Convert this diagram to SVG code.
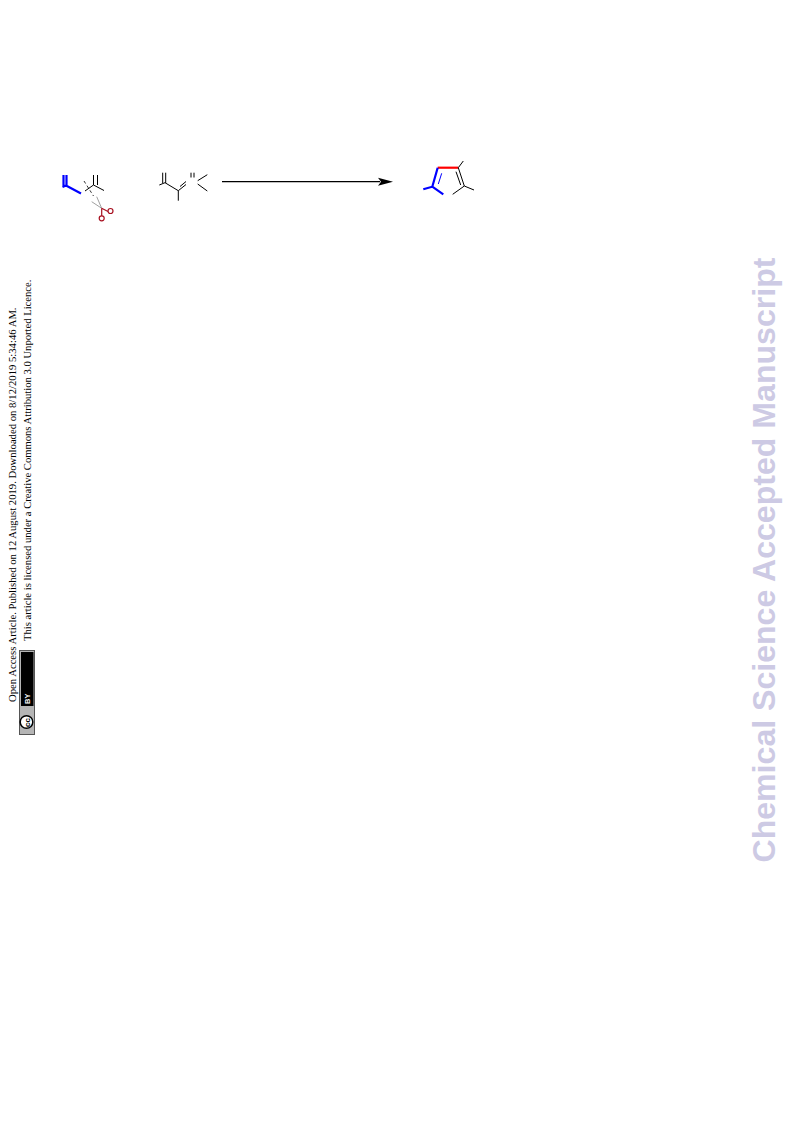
<svg xmlns="http://www.w3.org/2000/svg" width="793" height="1121" viewBox="0 0 793 1121">
<style>
.b{stroke:#000;stroke-width:1;fill:none}
.bl{stroke:#00f;stroke-width:2.200;fill:none}
.bt{stroke:#00f;stroke-width:1;fill:none}
.r{stroke:#f00;stroke-width:2.200;fill:none}
.g{stroke:#777;stroke-width:.7;fill:none}
.d{stroke:#000;stroke-width:.8;fill:none;stroke-dasharray:3 2.500}
.c{stroke:#a81020;stroke-width:1.200;fill:none}
.t{font-family:"Liberation Serif",serif;fill:#000}
.w{font-family:"Liberation Sans",sans-serif;font-weight:bold;font-size:32.100px;fill:#cdcae4}
</style>
<rect width="793" height="1121" fill="#fff"/>
<g id="reactant-1">
<path class="bl" d="M63.500 175V187M66.500 175V187M62.500 187L66 185.500L81 193.500"/>
<path class="d" d="M84 181L93.500 196"/>
<path class="b" d="M85 191L93.500 185L104 190.500M93.500 175V185M97.500 175V185"/>
<path class="g" d="M91.700 201.700L101.700 208.300M96.700 196.700L101.700 208.300"/>
<path class="c" d="M101.700 208.300L108 211.500M101.700 208.300L101.700 216"/>
<circle class="c" cx="110.500" cy="211" r="2.500"/>
<circle class="c" cx="101.700" cy="218.300" r="2.500"/>
</g>
<g id="reactant-2">
<path class="b" d="M162.700 172.700V183M165.700 172.700V183M159.300 185L165 182.700L178.300 190.700V200.700M178.300 190.700L186 184.500M180 186.500L186 181.500M191 172.700V177.500M194 172.700V177.500M197.700 180.700L207.300 174.700M197.700 184L207.300 191"/>
</g>
<g id="connectors">
<line class="b" x1="222" y1="181.700" x2="380" y2="181.700" style="stroke-width:1.300"/>
<polygon points="393,181.700 378,177.700 381,181.700 378,185.700" fill="#000"/>
</g>
<g id="product">
<path class="r" d="M437.700 167.700H458.300"/>
<path class="bl" d="M437.700 167.700L432.300 186.700L423.300 189.300M432.300 186.700L443.300 194.300"/>
<path class="bt" d="M438.300 184L441.700 173.300"/>
<path class="b" d="M458.300 167.700L463.300 161M458.300 167.700L464.300 186L474 190M464.300 186L452.700 194.300M456 171.700L460.700 185"/>
</g>
<g id="side-text">
<text class="t" font-size="10.680" transform="translate(15.500 702) rotate(-90)">Open Access Article. Published on 12 August 2019. Downloaded on 8/12/2019 5:34:46 AM.</text>
<text class="t" font-size="10.640" transform="translate(31 641) rotate(-90)">This article is licensed under a Creative Commons Attribution 3.0 Unported Licence.</text>
</g>
<g id="cc-badge">
<rect x="19.500" y="650.500" width="15" height="84" fill="#b5b5b5" stroke="#555" stroke-width="1"/>
<rect x="21" y="652" width="12.500" height="54" fill="#000"/>
<circle cx="26.500" cy="722" r="6.300" fill="#fff" stroke="#000" stroke-width="1.500"/>
<text transform="translate(29.500 727) rotate(-90)" font-family="Liberation Sans,sans-serif" font-weight="bold" font-size="8" fill="#000">cc</text>
<text transform="translate(29.500 704) rotate(-90)" font-family="Liberation Sans,sans-serif" font-weight="bold" font-size="7.500" fill="#fff">BY</text>
</g>
<text class="w" id="watermark" transform="translate(775 862.500) rotate(-90)">Chemical Science Accepted Manuscript</text>
</svg>
